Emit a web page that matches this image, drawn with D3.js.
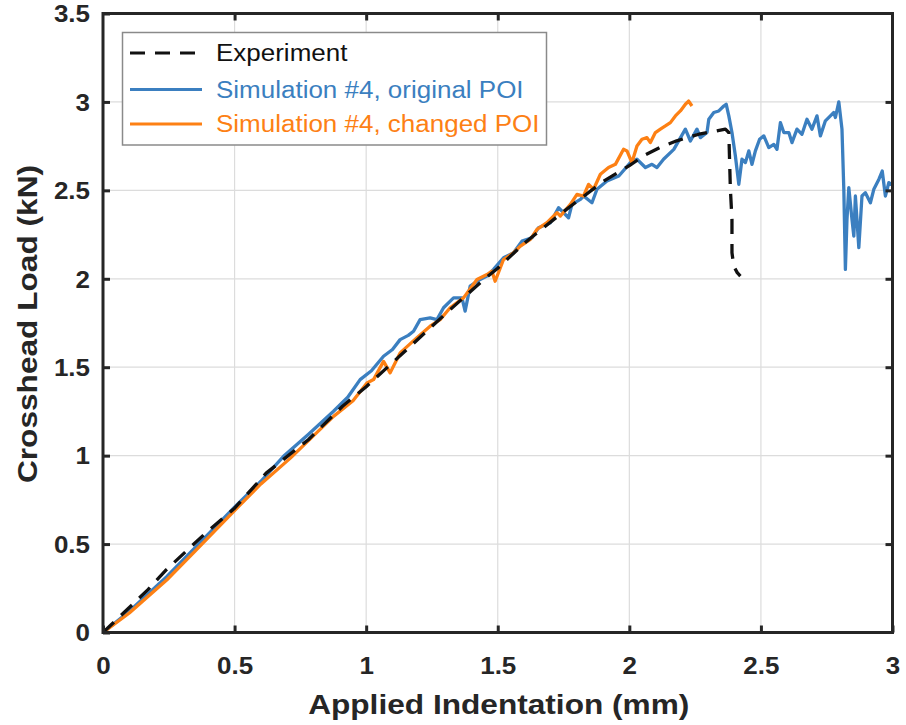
<!DOCTYPE html>
<html><head><meta charset="utf-8">
<script src="https://cdn.jsdelivr.net/npm/d3@7"></script>
<style>body{margin:0;background:#fff}svg{display:block;font-family:"Liberation Sans",Arial,Helvetica,sans-serif}</style>
</head><body><svg id="c" width="906" height="725"></svg>
<script>
// ---- data ----
const seriesNames = ["Experiment", "Simulation #4, original POI", "Simulation #4, changed POI"];
const xTicks = [0, 0.5, 1, 1.5, 2, 2.5, 3];
const yTicks = [0, 0.5, 1, 1.5, 2, 2.5, 3, 3.5];
const expX = [0,0.03,0.09,0.17,0.24,0.39,0.50,0.62,0.78,0.91,1.00,1.14,1.30,1.45,1.50,1.60,1.75,1.90,2.00,2.06,2.12,2.18,2.27,2.33,2.365,2.378,2.384,2.39,2.39,2.397,2.41,2.422];
const expY = [0,0.042,0.127,0.241,0.354,0.562,0.703,0.901,1.09,1.279,1.39,1.58,1.80,2.00,2.06,2.20,2.38,2.55,2.64,2.70,2.745,2.78,2.82,2.835,2.846,2.827,2.506,2.336,2.147,2.071,2.035,2.015];
const origX = [0,0.1,0.242,0.35,0.496,0.6,0.686,0.78,0.876,0.93,0.977,1.02,1.066,1.10,1.129,1.16,1.18,1.205,1.243,1.269,1.294,1.332,1.364,1.376,1.395,1.433,1.459,1.484,1.522,1.56,1.592,1.63,1.655,1.70,1.731,1.769,1.782,1.814,1.826,1.858,1.877,1.915,1.96,2.004,2.029,2.061,2.086,2.105,2.13,2.169,2.213,2.232,2.257,2.27,2.295,2.302,2.321,2.34,2.359,2.368,2.378,2.39,2.403,2.416,2.428,2.441,2.454,2.466,2.479,2.495,2.511,2.53,2.549,2.561,2.574,2.587,2.606,2.618,2.637,2.656,2.675,2.694,2.713,2.726,2.745,2.764,2.777,2.783,2.796,2.808,2.815,2.821,2.827,2.834,2.846,2.853,2.859,2.872,2.884,2.897,2.916,2.929,2.948,2.961,2.973,2.986,3.0];
const origY = [0,0.12,0.316,0.48,0.703,0.855,0.996,1.12,1.251,1.33,1.43,1.48,1.562,1.60,1.656,1.68,1.703,1.769,1.779,1.769,1.836,1.892,1.892,1.817,1.958,1.996,2.015,2.053,2.119,2.147,2.213,2.232,2.289,2.317,2.402,2.345,2.421,2.449,2.468,2.43,2.506,2.553,2.581,2.657,2.676,2.629,2.647,2.629,2.676,2.732,2.846,2.779,2.846,2.798,2.827,2.902,2.94,2.949,2.977,2.987,2.921,2.827,2.694,2.534,2.676,2.657,2.723,2.647,2.723,2.789,2.808,2.742,2.76,2.732,2.883,2.827,2.827,2.77,2.846,2.817,2.902,2.846,2.921,2.808,2.893,2.921,2.94,2.912,3.0,2.846,2.506,2.053,2.336,2.515,2.336,2.241,2.468,2.176,2.468,2.487,2.43,2.506,2.562,2.609,2.468,2.544,2.53];
const chgX = [0,0.1,0.242,0.35,0.496,0.6,0.712,0.876,0.95,1.003,1.028,1.066,1.091,1.129,1.192,1.243,1.281,1.319,1.37,1.421,1.459,1.478,1.49,1.522,1.56,1.586,1.624,1.649,1.687,1.725,1.738,1.776,1.801,1.826,1.845,1.864,1.89,1.921,1.947,1.978,1.991,2.01,2.029,2.048,2.067,2.08,2.099,2.118,2.137,2.156,2.175,2.194,2.213,2.225,2.238];
const chgY = [0,0.11,0.297,0.46,0.684,0.84,0.986,1.222,1.31,1.411,1.43,1.533,1.468,1.581,1.666,1.732,1.769,1.836,1.892,1.996,2.024,2.043,1.986,2.109,2.147,2.185,2.223,2.279,2.317,2.374,2.355,2.421,2.477,2.468,2.534,2.506,2.591,2.629,2.647,2.732,2.723,2.657,2.751,2.789,2.798,2.77,2.827,2.846,2.864,2.883,2.921,2.949,2.987,3.005,2.977];
const colors = ["#111111", "#3b7fc0", "#fd8014"];

// ---- layout ----
const L = 103, R = 892.5, T = 13.5, B = 632.5, SX = 1.13;
const svg = d3.select("#c");
const x = d3.scaleLinear().domain([0, 3]).range([L, R]);
const y = d3.scaleLinear().domain([0, 3.5]).range([B, T]);

// grid
const g = svg.append("g");
g.selectAll(".gx").data(xTicks.slice(1, -1)).join("line")
  .attr("x1", d => x(d)).attr("x2", d => x(d)).attr("y1", T).attr("y2", B)
  .attr("stroke", "#dcdcdc").attr("stroke-width", 1.2);
g.selectAll(".gy").data(yTicks.slice(1, -1)).join("line")
  .attr("y1", d => y(d)).attr("y2", d => y(d)).attr("x1", L).attr("x2", R)
  .attr("stroke", "#dcdcdc").attr("stroke-width", 1.2);

// data
svg.append("clipPath").attr("id", "clip").append("rect")
  .attr("x", L).attr("y", T).attr("width", R - L).attr("height", B - T);
const line = d3.line().x(d => x(d[0])).y(d => y(d[1]));
const series = [
  d3.zip(expX, expY), d3.zip(origX, origY), d3.zip(chgX, chgY)
];
const dg = svg.append("g").attr("clip-path", "url(#clip)");
[1, 2, 0].forEach(i => {
  dg.append("path").datum(series[i]).attr("d", line)
    .attr("fill", "none").attr("stroke", colors[i]).attr("stroke-width", 3.3)
    .attr("stroke-linejoin", "round")
    .attr("stroke-dasharray", i === 0 ? "15,10" : null);
});

// axes
function styleAxis(sel) {
  sel.select(".domain").remove();
  sel.selectAll(".tick line").attr("stroke", "#262626").attr("stroke-width", 3);
}
const ax = svg.append("g").attr("transform", `translate(0,${B})`)
  .call(d3.axisBottom(x).tickValues(xTicks).tickSize(-7).tickFormat(d3.format("")));
styleAxis(ax);
ax.selectAll("text").attr("y", 0).attr("dy", null)
  .attr("transform", "translate(0,41) scale(" + SX + ",1)")
  .attr("font-size", 23).attr("font-weight", "bold").attr("fill", "#262626")
  .attr("font-family", "'Liberation Sans',Arial,sans-serif");
const ay = svg.append("g").attr("transform", `translate(${L},0)`)
  .call(d3.axisLeft(y).tickValues(yTicks).tickSize(-7).tickFormat(d3.format("")));
styleAxis(ay);
ay.selectAll("text").attr("x", 0).attr("dy", "0.36em")
  .attr("transform", "translate(-13,0) scale(" + SX + ",1)")
  .attr("font-size", 23).attr("font-weight", "bold").attr("fill", "#262626")
  .attr("font-family", "'Liberation Sans',Arial,sans-serif");
const at = svg.append("g").attr("transform", `translate(0,${T})`)
  .call(d3.axisTop(x).tickValues(xTicks.slice(1, -1)).tickSize(-7).tickFormat(""));
styleAxis(at);
const ar = svg.append("g").attr("transform", `translate(${R},0)`)
  .call(d3.axisRight(y).tickValues(yTicks.slice(1, -1)).tickSize(-7).tickFormat(""));
styleAxis(ar);
svg.append("rect").attr("x", L).attr("y", T).attr("width", R - L).attr("height", B - T)
  .attr("fill", "none").attr("stroke", "#262626").attr("stroke-width", 3);

// axis titles
svg.append("text").attr("transform", `translate(${(L + R) / 2 + 1},714) scale(${SX},1)`)
  .attr("text-anchor", "middle").attr("font-size", 28).attr("font-weight", "bold")
  .attr("fill", "#262626").text("Applied Indentation (mm)");
svg.append("text").attr("transform", `translate(37,${(T + B) / 2 + 1}) rotate(-90) scale(${SX},1)`)
  .attr("text-anchor", "middle").attr("font-size", 28).attr("font-weight", "bold")
  .attr("fill", "#262626").text("Crosshead Load (kN)");

// legend
const lg = svg.append("g");
lg.append("rect").attr("x", 122.5).attr("y", 32.5).attr("width", 424).attr("height", 112.5)
  .attr("fill", "#fff").attr("stroke", "#8a8a8a").attr("stroke-width", 1.5);
const rowY = [53, 89.5, 124];
seriesNames.forEach((name, i) => {
  lg.append("line").attr("x1", 130).attr("x2", 202).attr("y1", rowY[i]).attr("y2", rowY[i])
    .attr("stroke", colors[i]).attr("stroke-width", 3)
    .attr("stroke-dasharray", i === 0 ? "15,10" : null);
  lg.append("text").attr("transform", `translate(216,${rowY[i] + 8}) scale(${SX},1)`)
    .attr("font-size", 23).attr("fill", i === 0 ? "#111" : colors[i]).text(name);
});
</script></body></html>
